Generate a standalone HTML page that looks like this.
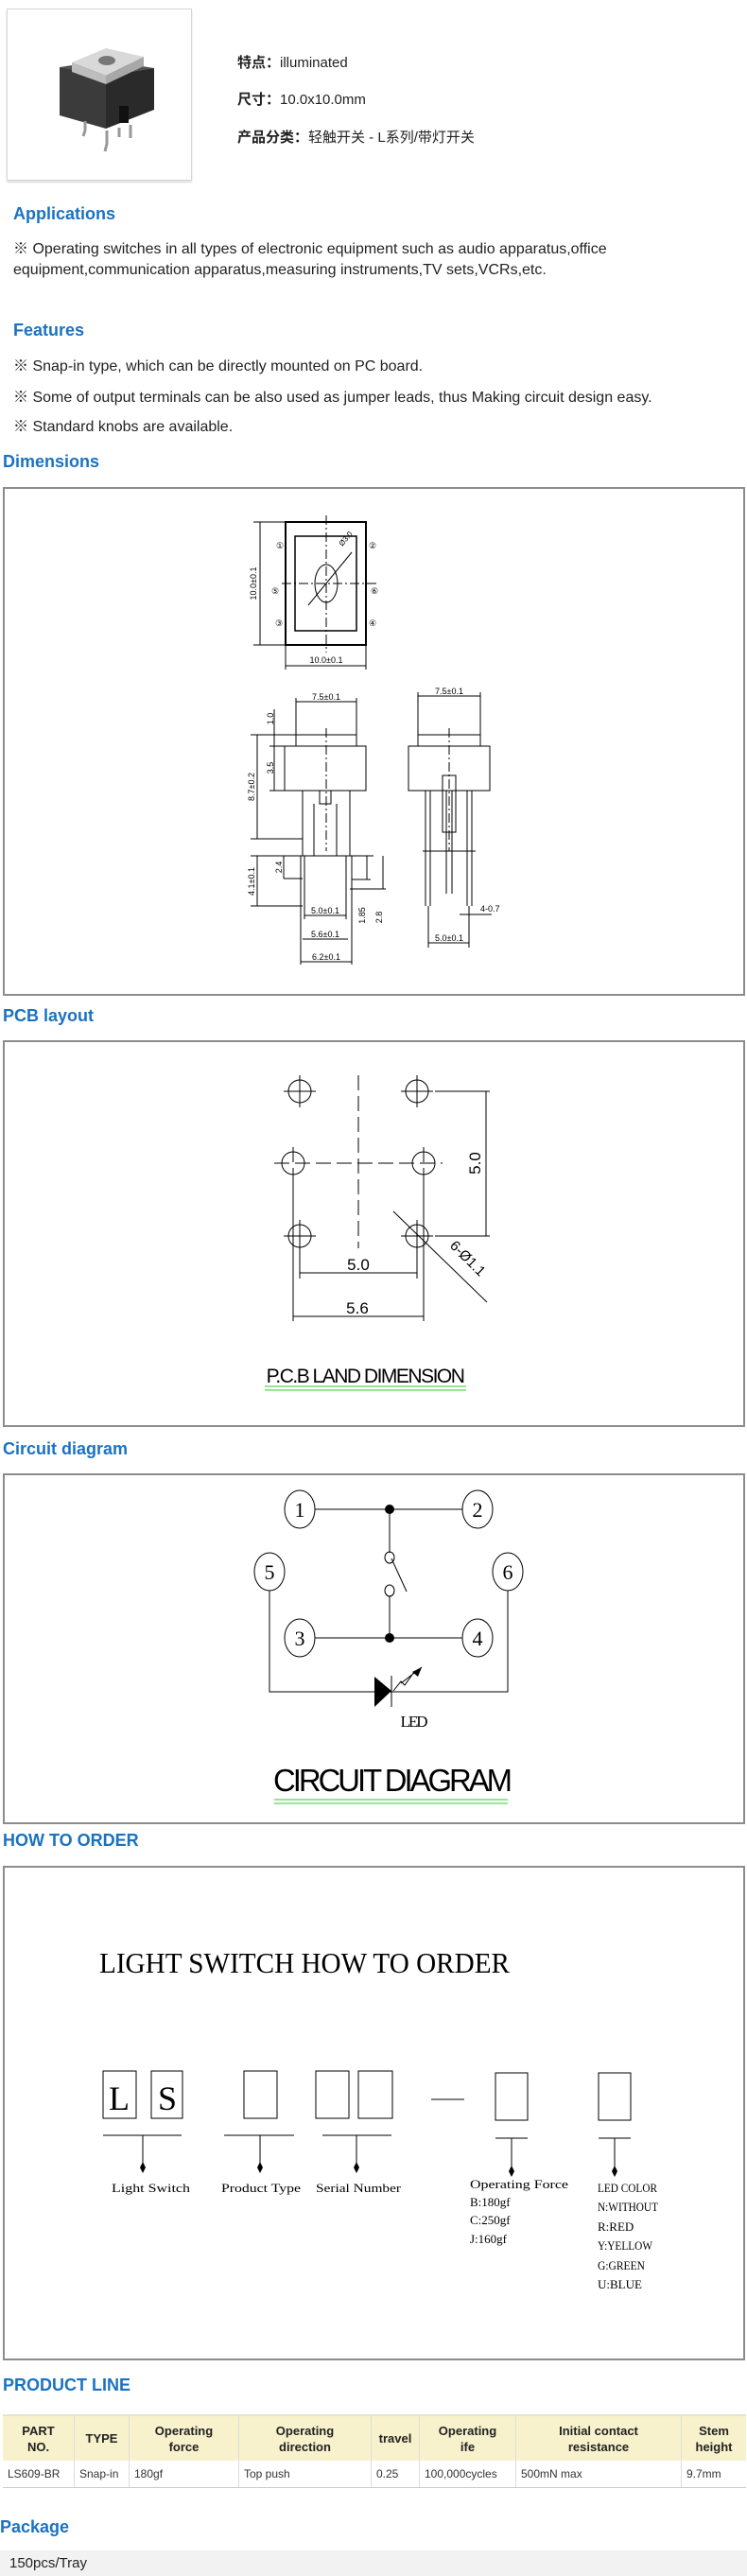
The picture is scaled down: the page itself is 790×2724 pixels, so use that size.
<!DOCTYPE html>
<html><head><meta charset="utf-8"><style>
body{margin:0;width:790px;height:2724px;position:relative;background:#fff;font-family:"Liberation Sans","Noto Sans CJK SC",sans-serif;color:#222;overflow:hidden}
.a{position:absolute;white-space:nowrap}
.h{position:absolute;color:#1a72c2;font-weight:bold;font-size:18px;white-space:nowrap}
.t{position:absolute;font-size:16px;white-space:nowrap;color:#222}
.box{position:absolute;left:3px;width:781px;border:2px solid #8c8c8c}
table{position:absolute;left:3px;top:2553px;width:786px;border-collapse:collapse;font-size:12px}
th{background:#f7f1cc;font-size:13px;height:45px;border-right:1px solid #ddd;line-height:17px;font-weight:bold}
td{height:26px;border-right:1px solid #ddd;border-bottom:1px solid #ccc;padding-left:5px;color:#333}
tr:first-child th{border-top:2px solid #e8e4cc}
</style></head><body>
<div class="a" style="left:7px;top:9px;width:194px;height:180px;border:1px solid #d6d6d6;box-shadow:0 2px 2px #ddd"></div>
<svg class="a" style="left:0;top:0" width="220" height="200">
<polygon points="63,71 112,80 112,136 63,122" fill="#3b3b3b"/>
<polygon points="112,80 163,72 163,116 112,136" fill="#2a2a2a"/>
<polygon points="63,71 110,64 163,72 112,80" fill="#505050"/>
<polygon points="76,66 112,51 152,60 112,80" fill="#d9d9d9"/>
<polygon points="76,66 112,80 112,89 76,76" fill="#bdbdbd"/>
<polygon points="112,80 152,60 152,70 112,89" fill="#a8a8a8"/>
<ellipse cx="113" cy="64" rx="9" ry="5" fill="#777"/>
<rect x="126" y="112" width="10" height="18" fill="#111"/>
<path d="M90,128 v10 l-2,6 M113,138 v14 l-2,8 M126,135 v10 M138,132 v14" stroke="#999" stroke-width="3" fill="none"/>
</svg>
<div class="a" style="left:251px;top:55px;font-size:15px"><b>特点：</b>illuminated</div>
<div class="a" style="left:251px;top:94px;font-size:15px"><b>尺寸：</b>10.0x10.0mm</div>
<div class="a" style="left:251px;top:134px;font-size:15px"><b>产品分类：</b>轻触开关 - L系列/带灯开关</div>

<div class="h" style="left:14px;top:216px">Applications</div>
<div class="t" style="left:14px;top:249px">※ Operating switches in all types of electronic equipment such as audio apparatus,office</div>
<div class="t" style="left:14px;top:277px">equipment,communication apparatus,measuring instruments,TV sets,VCRs,etc.</div>
<div class="h" style="left:14px;top:339px">Features</div>
<div class="t" style="left:14px;top:373px">※ Snap-in type, which can be directly mounted on PC board.</div>
<div class="t" style="left:14px;top:406px">※ Some of output terminals can be also used as jumper leads, thus Making circuit design easy.</div>
<div class="t" style="left:14px;top:437px">※ Standard knobs are available.</div>

<div class="h" style="left:3px;top:478px">Dimensions</div>
<div class="box" style="top:515px;height:534px"></div>
<div class="h" style="left:3px;top:1064px">PCB layout</div>
<div class="box" style="top:1100px;height:405px"></div>
<div class="h" style="left:3px;top:1522px">Circuit diagram</div>
<div class="box" style="top:1558px;height:367px"></div>
<div class="h" style="left:3px;top:1936px">HOW TO ORDER</div>
<div class="box" style="top:1973px;height:519px"></div>
<div class="h" style="left:3px;top:2512px">PRODUCT LINE</div>

<svg class="a" style="left:0;top:0" width="790" height="2724" font-family="Liberation Sans Narrow, Liberation Sans, sans-serif">
<g stroke="#000" fill="none" stroke-width="1">
<rect x="302" y="552" width="85" height="130" stroke-width="2"/>
<rect x="312" y="567" width="65" height="100" stroke-width="1.5"/>
<ellipse cx="345" cy="617" rx="12" ry="20"/>
<path d="M345,545 V690 M298,617 H398" stroke-dasharray="10,3,2,3"/>
<path d="M326,640 L372,584"/>
<path d="M275,552 V682 M268,552 H302 M268,682 H302 M302,682 V708 M387,682 V708 M302,704 H387"/>
<path d="M313,742 H377 M313,738 V777 M377,738 V777"/>
<rect x="313" y="777" width="64" height="12"/>
<path d="M301,789 H387 V836 H301 Z"/>
<path d="M320,836 V905 M370,836 V905 M332,850 V905 M356,850 V905 M338,836 V850 H350 V836"/>
<path d="M322,905 V958 M366,905 V958 M318,905 V1020 M372,905 V1020 M322,958 V972 M366,958 V972"/>
<path d="M345,770 V900" stroke-dasharray="10,3,2,3"/>
<path d="M272,777 V887 M265,777 H313 M265,887 H320 M290,750 V789 M285,789 H301 M285,836 H301 M290,789 V836"/>
<path d="M272,905 V958 M265,905 H395 M265,958 H320 M300,905 V929 M300,929 H320"/>
<path d="M322,968 H366 M320,993 H368 M318,1017 H372 M388,905 V930 M405,905 V940 M372,930 H392 M370,940 H408"/>
<path d="M442,736 H508 M442,732 V777 M508,732 V777"/>
<rect x="442" y="777" width="66" height="12"/>
<path d="M432,789 H518 V836 H432 Z"/>
<path d="M475,770 V900" stroke-dasharray="10,3,2,3"/>
<path d="M450,836 V958 M455,836 V958 M494,836 V958 M499,836 V958 M472,836 V945 M478,836 V945 M468,820 H482 V880 H468 Z"/>
<path d="M447,900 H503 M453,958 V1002 M496,958 V1002 M453,997 H496 M486,967 H520"/>
<g stroke-width="1">
<circle cx="317" cy="1154" r="12"/><circle cx="441" cy="1154" r="12"/>
<circle cx="310" cy="1230" r="12"/><circle cx="448" cy="1230" r="12"/>
<circle cx="317" cy="1307" r="12"/><circle cx="441" cy="1307" r="12"/>
<path d="M300,1154 H334 M317,1137 V1171 M424,1154 H458 M441,1137 V1171 M300,1307 H334 M317,1290 V1324 M424,1307 H458 M441,1290 V1324"/>
<path d="M290,1230 H468 M310,1213 V1247 M448,1213 V1247 M379,1137 V1320" stroke-dasharray="16,6"/>
<path d="M460,1154 H518 M460,1307 H518 M514,1154 V1307 M310,1247 V1397 M448,1247 V1397 M317,1324 V1352 M441,1324 V1352 M317,1346 H441 M310,1392 H448 M416,1281 L515,1377"/>
</g>
<path d="M280,1466 H493 M280,1470 H493" stroke="#2ecc2e"/>
<ellipse cx="317" cy="1596" rx="16" ry="20"/><ellipse cx="505" cy="1596" rx="16" ry="20"/>
<ellipse cx="285" cy="1662" rx="16" ry="20"/><ellipse cx="537" cy="1662" rx="16" ry="20"/>
<ellipse cx="317" cy="1732" rx="16" ry="20"/><ellipse cx="505" cy="1732" rx="16" ry="20"/>
<path d="M333,1596 H489 M333,1732 H489 M412,1596 V1642 M412,1688 V1732 M414,1648 L430,1683 M285,1682 V1789 H537 V1682"/>
<ellipse cx="412" cy="1647" rx="5" ry="6"/><ellipse cx="412" cy="1682" rx="5" ry="6"/>
<path d="M414,1772 V1805 M416,1788 L424,1778 L428,1782 L438,1768 M424,1780 L446,1763"/>
<path d="M290,1903 H537 M290,1907 H537" stroke="#2ecc2e"/>
<rect x="109" y="2190" width="35" height="50"/><rect x="160" y="2190" width="33" height="50"/>
<rect x="258" y="2190" width="35" height="50"/><rect x="334" y="2190" width="35" height="50"/><rect x="379" y="2190" width="36" height="50"/>
<rect x="524" y="2192" width="34" height="50"/><rect x="633" y="2192" width="34" height="50"/>
<path d="M456,2220 H491 M109,2258 H192 M237,2258 H311 M341,2258 H414 M524,2261 H558 M633,2261 H667 M151,2258 V2292 M275,2258 V2292 M377,2258 V2292 M541,2261 V2296 M650,2261 V2296"/>
</g>
<g fill="#000">
<circle cx="412" cy="1596" r="5"/><circle cx="412" cy="1732" r="5"/>
<polygon points="396,1773 414,1788 396,1805"/>
<polygon points="446,1763 436,1768 442,1773"/>
<path d="M151,2286 l3,6 l-3,6 l-3,-6z M275,2286 l3,6 l-3,6 l-3,-6z M377,2286 l3,6 l-3,6 l-3,-6z M541,2290 l3,6 l-3,6 l-3,-6z M650,2290 l3,6 l-3,6 l-3,-6z"/>
</g>
<g font-size="9" fill="#000">
<text x="345" y="701" text-anchor="middle">10.0±0.1</text>
<text transform="translate(271,617) rotate(-90)" text-anchor="middle">10.0±0.1</text>
<text transform="translate(362,578) rotate(-50)" font-size="8">Ø3.0</text>
<text x="296" y="580" text-anchor="middle">①</text><text x="394" y="580" text-anchor="middle">②</text>
<text x="291" y="628" text-anchor="middle">⑤</text><text x="396" y="628" text-anchor="middle">⑥</text>
<text x="295" y="662" text-anchor="middle">③</text><text x="394" y="662" text-anchor="middle">④</text>
<text x="345" y="740" text-anchor="middle">7.5±0.1</text>
<text x="475" y="734" text-anchor="middle">7.5±0.1</text>
<text transform="translate(289,760) rotate(-90)" text-anchor="middle">1.0</text>
<text transform="translate(289,812) rotate(-90)" text-anchor="middle">3.5</text>
<text transform="translate(269,832) rotate(-90)" text-anchor="middle">8.7±0.2</text>
<text transform="translate(269,932) rotate(-90)" text-anchor="middle">4.1±0.1</text>
<text transform="translate(298,917) rotate(-90)" text-anchor="middle">2.4</text>
<text transform="translate(386,968) rotate(-90)" text-anchor="middle">1.85</text>
<text transform="translate(404,970) rotate(-90)" text-anchor="middle">2.8</text>
<text x="344" y="966" text-anchor="middle">5.0±0.1</text>
<text x="344" y="991" text-anchor="middle">5.6±0.1</text>
<text x="345" y="1015" text-anchor="middle">6.2±0.1</text>
<text x="475" y="995" text-anchor="middle">5.0±0.1</text>
<text x="508" y="964">4-0.7</text>
</g>
<g font-size="17" fill="#000">
<text x="379" y="1343" text-anchor="middle">5.0</text>
<text x="378" y="1389" text-anchor="middle">5.6</text>
<text transform="translate(508,1230) rotate(-90)" text-anchor="middle">5.0</text>
<text transform="translate(475,1318) rotate(45)" font-size="15">6-Ø1.1</text>
<text x="386" y="1462" text-anchor="middle" font-size="21" letter-spacing="-1.5">P.C.B LAND DIMENSION</text>
</g>
<g font-family="Liberation Serif, serif" fill="#000" font-size="22" text-anchor="middle">
<text x="317" y="1604">1</text><text x="505" y="1604">2</text><text x="285" y="1670">5</text>
<text x="537" y="1670">6</text><text x="317" y="1740">3</text><text x="505" y="1740">4</text>
<text x="437" y="1826" font-size="17" letter-spacing="-2">LED</text>
</g>
<text x="414" y="1894" text-anchor="middle" font-size="33" letter-spacing="-3" textLength="250" lengthAdjust="spacingAndGlyphs">CIRCUIT DIAGRAM</text>
<g font-family="Liberation Serif, serif" fill="#000">
<text x="105" y="2086" font-size="31" textLength="434" lengthAdjust="spacingAndGlyphs">LIGHT SWITCH HOW TO ORDER</text>
<text x="126" y="2231" font-size="36" text-anchor="middle">L</text>
<text x="177" y="2231" font-size="36" text-anchor="middle">S</text>
<g font-size="13">
<text x="118" y="2318" textLength="83" lengthAdjust="spacingAndGlyphs">Light Switch</text>
<text x="234" y="2318" textLength="84" lengthAdjust="spacingAndGlyphs">Product Type</text>
<text x="334" y="2318" textLength="90" lengthAdjust="spacingAndGlyphs">Serial Number</text>
<text x="497" y="2314" textLength="104" lengthAdjust="spacingAndGlyphs">Operating Force</text>
<text x="497" y="2333">B:180gf</text><text x="497" y="2352">C:250gf</text><text x="497" y="2372">J:160gf</text>
<text x="632" y="2318" textLength="63" lengthAdjust="spacingAndGlyphs">LED COLOR</text>
<text x="632" y="2338" textLength="64" lengthAdjust="spacingAndGlyphs">N:WITHOUT</text>
<text x="632" y="2359">R:RED</text>
<text x="632" y="2379" textLength="58" lengthAdjust="spacingAndGlyphs">Y:YELLOW</text>
<text x="632" y="2400" textLength="50" lengthAdjust="spacingAndGlyphs">G:GREEN</text>
<text x="632" y="2420">U:BLUE</text>
</g></g>
</svg>

<table>
<tr><th style="width:73px">PART<br>NO.</th><th style="width:55px">TYPE</th><th style="width:113px">Operating<br>force</th><th style="width:137px">Operating<br>direction</th><th style="width:48px">travel</th><th style="width:99px">Operating<br>ife</th><th style="width:172px">Initial contact<br>resistance</th><th style="border-right:0">Stem<br>height</th></tr>
<tr><td>LS609-BR</td><td>Snap-in</td><td>180gf</td><td>Top push</td><td>0.25</td><td>100,000cycles</td><td>500mN max</td><td style="border-right:0">9.7mm</td></tr>
</table>
<div class="h" style="left:0;top:2662px">Package</div>
<div class="a" style="left:0;top:2697px;width:790px;height:27px;background:#f2f2f2;font-size:15px;line-height:27px;padding-left:10px">150pcs/Tray</div>
</body></html>
